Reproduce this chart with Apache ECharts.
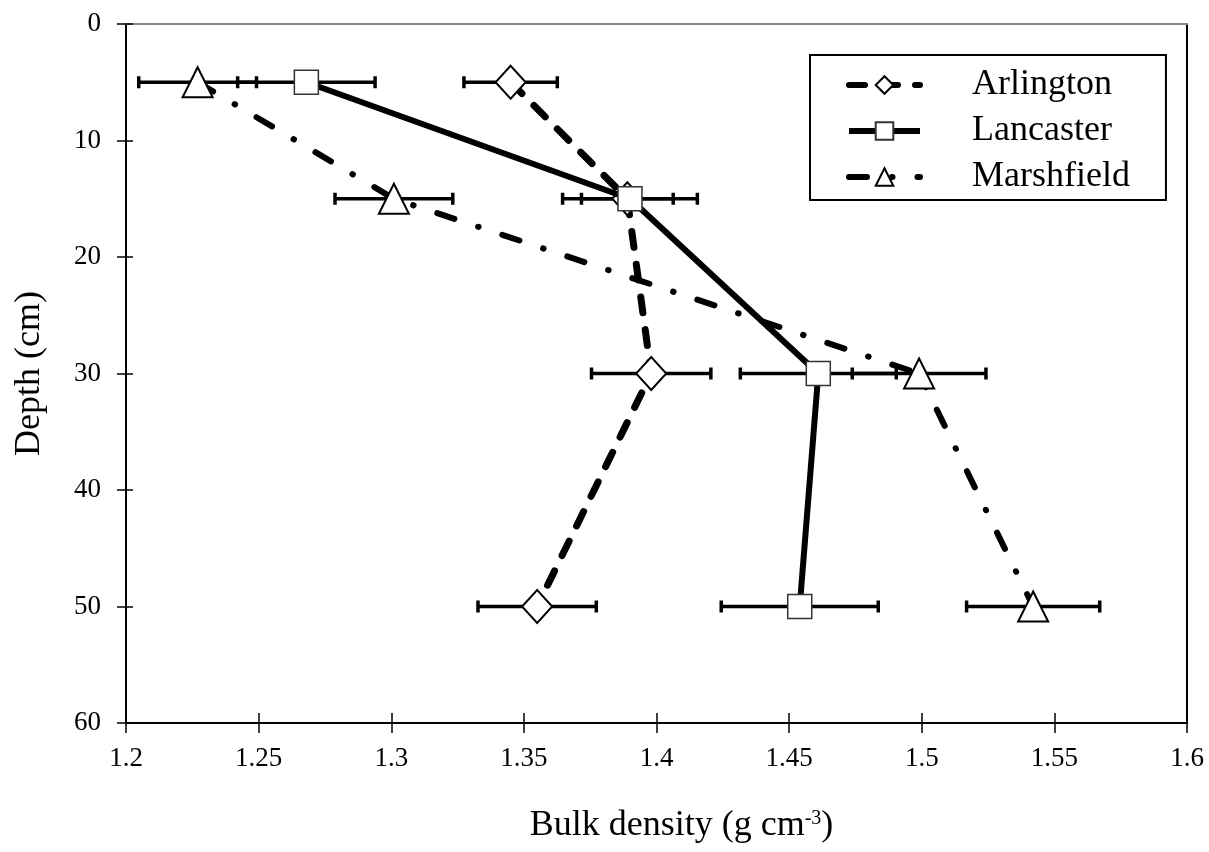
<!DOCTYPE html>
<html>
<head>
<meta charset="utf-8">
<script src="https://cdn.jsdelivr.net/npm/echarts@6/dist/echarts.min.js"></script>
<style>
html,body{margin:0;padding:0;background:#fff;}
#chart{width:1209px;height:852px;}
</style>
</head>
<body>
<div id="chart"></div>
<script>
// ---- data ----
const seriesNames = ['Arlington', 'Lancaster', 'Marshfield'];
const depths = [5, 15, 30, 50];
const arlington = [1.345, 1.389, 1.398, 1.355];
const arlingtonErr = [0.0176, 0.0173, 0.0225, 0.0223];
const lancaster = [1.268, 1.390, 1.461, 1.454];
const lancasterErr = [0.0259, 0.0254, 0.0294, 0.0296];
const marshfield = [1.227, 1.301, 1.499, 1.542];
const marshfieldErr = [0.0222, 0.0222, 0.0252, 0.0251];
const xTicks = { min: 1.2, max: 1.6, interval: 0.05 };
const yTicks = { min: 0, max: 60, interval: 10 };

const FONT = "'Liberation Serif', 'Times New Roman', serif";

function pairs(xs) { return xs.map((x, i) => [x, depths[i]]); }
function errData(xs, es) { return xs.map((x, i) => [x, depths[i], es[i]]); }

function errRender(params, api) {
  const x = api.value(0), y = api.value(1), e = api.value(2);
  const p0 = api.coord([x - e, y]);
  const p1 = api.coord([x + e, y]);
  const h = 6;
  const st = { stroke: '#000', lineWidth: 3.5 };
  return {
    type: 'group',
    children: [
      { type: 'line', shape: { x1: p0[0], y1: p0[1], x2: p1[0], y2: p1[1] }, style: st },
      { type: 'line', shape: { x1: p0[0], y1: p0[1] - h, x2: p0[0], y2: p0[1] + h }, style: st },
      { type: 'line', shape: { x1: p1[0], y1: p1[1] - h, x2: p1[0], y2: p1[1] + h }, style: st }
    ]
  };
}

function xAxisBase(extra) {
  return Object.assign({
    type: 'value', min: xTicks.min, max: xTicks.max, interval: xTicks.interval,
    splitLine: { show: false }
  }, extra);
}
function yAxisBase(extra) {
  return Object.assign({
    type: 'value', inverse: true, min: yTicks.min, max: yTicks.max, interval: yTicks.interval,
    splitLine: { show: false }
  }, extra);
}

const chart = echarts.init(document.getElementById('chart'), null, { renderer: 'canvas' });

const option = {
  animation: false,
  backgroundColor: '#fff',
  grid: { left: 126, right: 22, top: 24, bottom: 129, containLabel: false },
  xAxis: [
    xAxisBase({
      position: 'bottom',
      axisLine: { onZero: false, lineStyle: { color: '#000', width: 2 } },
      axisTick: { inside: false, length: 10, lineStyle: { color: '#000', width: 1.5 } },
      axisLabel: { color: '#000', fontFamily: FONT, fontSize: 27, margin: 22,
        formatter: v => String(+v.toFixed(2)) },
      name: '{b|Bulk density (g cm}{sup|-3}{b|)}',
      nameLocation: 'middle',
      nameGap: 84,
      nameTextStyle: {
        padding: [0, 0, 0, 50],
        rich: {
          b: { fontFamily: FONT, fontSize: 36, color: '#000', lineHeight: 38 },
          sup: { fontFamily: FONT, fontSize: 20, color: '#000', lineHeight: 38, padding: [0, 0, 15, 0] }
        }
      }
    }),
    xAxisBase({
      position: 'bottom',
      axisLine: { show: true, onZero: false, lineStyle: { color: '#000', width: 2 } },
      axisTick: { show: true, inside: true, length: 10, lineStyle: { color: '#000', width: 1.5 } },
      axisLabel: { show: false }
    }),
    xAxisBase({
      position: 'top',
      axisLine: { onZero: false, lineStyle: { color: '#888', width: 2 } },
      axisTick: { show: false },
      axisLabel: { show: false }
    })
  ],
  yAxis: [
    yAxisBase({
      position: 'left',
      axisLine: { onZero: false, lineStyle: { color: '#000', width: 2 } },
      axisTick: { inside: false, length: 9, lineStyle: { color: '#000', width: 1.5 } },
      axisLabel: { color: '#000', fontFamily: FONT, fontSize: 27, margin: 25 },
      name: 'Depth (cm)',
      nameLocation: 'middle',
      nameGap: 78,
      nameRotate: 90,
      nameTextStyle: { fontFamily: FONT, fontSize: 36, color: '#000' }
    }),
    yAxisBase({
      position: 'left',
      axisLine: { show: true, onZero: false, lineStyle: { color: '#000', width: 2 } },
      axisTick: { show: true, inside: true, length: 7, lineStyle: { color: '#000', width: 1.5 } },
      axisLabel: { show: false }
    }),
    yAxisBase({
      position: 'right',
      axisLine: { onZero: false, lineStyle: { color: '#000', width: 2 } },
      axisTick: { show: false },
      axisLabel: { show: false }
    })
  ],
  legend: {
    orient: 'vertical',
    left: 810,
    top: 55,
    data: seriesNames,
    backgroundColor: '#fff',
    borderColor: '#000',
    borderWidth: 2,
    padding: [12, 36, 5, 36],
    itemWidth: 71,
    itemHeight: 22,
    itemGap: 10,
    lineStyle: { width: 6 },
    textStyle: { fontFamily: FONT, fontSize: 36, color: '#000', lineHeight: 36, padding: [0, 0, 0, 47] }
  },
  series: [
    { type: 'custom', name: 'Arlington err', renderItem: errRender, data: errData(arlington, arlingtonErr), z: 1, silent: true },
    { type: 'custom', name: 'Lancaster err', renderItem: errRender, data: errData(lancaster, lancasterErr), z: 1, silent: true },
    { type: 'custom', name: 'Marshfield err', renderItem: errRender, data: errData(marshfield, marshfieldErr), z: 1, silent: true },
    {
      type: 'line', name: 'Arlington', data: pairs(arlington), z: 3,
      symbol: 'diamond', symbolSize: [30, 33],
      itemStyle: { color: '#fff', borderColor: '#000', borderWidth: 2 },
      lineStyle: { color: '#000', width: 7, type: [16, 17], cap: 'round' }
    },
    {
      type: 'line', name: 'Lancaster', data: pairs(lancaster), z: 4,
      symbol: 'rect', symbolSize: 24,
      itemStyle: { color: '#fff', borderColor: '#333', borderWidth: 1.5 },
      lineStyle: { color: '#000', width: 6, type: 'solid' }
    },
    {
      type: 'line', name: 'Marshfield', data: pairs(marshfield), z: 3,
      symbol: 'triangle', symbolSize: [30, 30],
      itemStyle: { color: '#fff', borderColor: '#000', borderWidth: 2 },
      lineStyle: { color: '#000', width: 6, type: [18, 25, 0.5, 25], cap: 'round' }
    }
  ]
};
chart.setOption(option);
</script>
</body>
</html>
